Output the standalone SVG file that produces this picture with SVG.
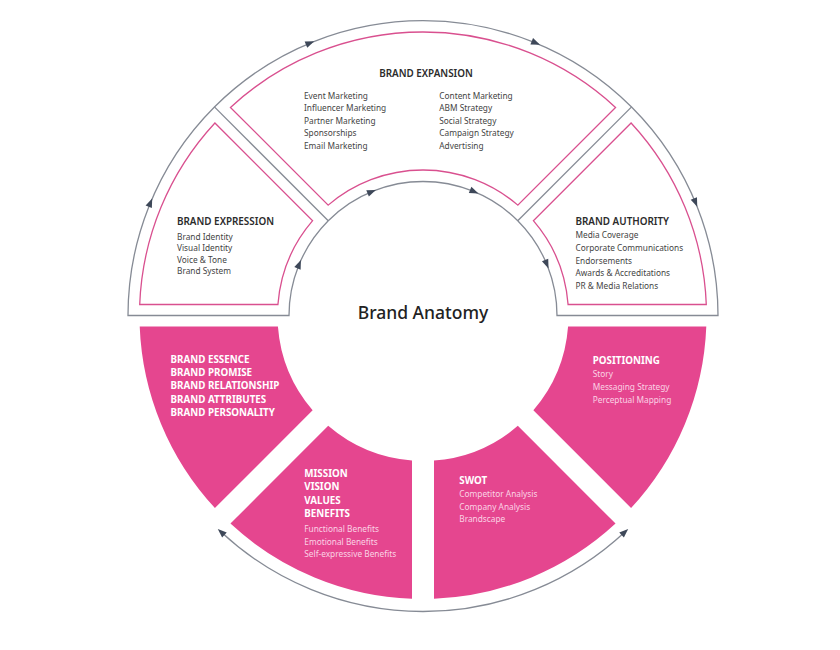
<svg xmlns="http://www.w3.org/2000/svg" xmlns:xlink="http://www.w3.org/1999/xlink" width="840" height="650" viewBox="0 0 840 650">
<style>
.frame{fill:none;stroke:#868b95;stroke-width:1.3}
.outline{fill:none;stroke:#d9508f;stroke-width:1.3}
.fill{fill:#e5468f}
.arr{fill:#3e4859}
.head{font-family:"Noto Sans","Liberation Sans",sans-serif;font-size:9.9px;font-weight:600;fill:#2b2b2b}
.item{font-family:"Noto Sans","Liberation Sans",sans-serif;font-size:8.3px;fill:#444}
.whead{font-family:"Noto Sans","Liberation Sans",sans-serif;font-size:9.8px;font-weight:700;fill:#fff}
.witem{font-family:"Noto Sans","Liberation Sans",sans-serif;font-size:8.3px;fill:#fbd3e5}
.title{font-family:"Noto Sans","Liberation Sans",sans-serif;font-size:17.5px;font-weight:500;fill:#222}
</style>
<defs>
<path id="ah" d="M4.5 0 L-4.5 -3.4 L-4.5 3.4 Z"/>
</defs>
<rect width="840" height="650" fill="#fff"/>
<g id="connectors">
<path class="frame" d="M128 315.5 A295 295 0 0 1 718 315.5 L557 315.5 A134 134 0 0 0 289 315.5 Z"/>
<line class="frame" x1="328.25" y1="220.75" x2="214.4" y2="106.9"/>
<line class="frame" x1="517.75" y1="220.75" x2="631.6" y2="106.9"/>
<path class="frame" d="M221.13 531.98 A296 296 0 0 0 624.87 531.98"/>
<g class="arr">
<use xlink:href="#ah" transform="translate(150.46 202.61) rotate(-67.5)"/>
<use xlink:href="#ah" transform="translate(310.11 42.96) rotate(-22.5)"/>
<use xlink:href="#ah" transform="translate(535.89 42.96) rotate(22.5)"/>
<use xlink:href="#ah" transform="translate(695.54 202.61) rotate(67.5)"/>
<use xlink:href="#ah" transform="translate(299.2 264.22) rotate(-67.5)"/>
<use xlink:href="#ah" transform="translate(371.72 191.7) rotate(-22.5)"/>
<use xlink:href="#ah" transform="translate(474.28 191.7) rotate(22.5)"/>
<use xlink:href="#ah" transform="translate(546.8 264.22) rotate(67.5)"/>
<use xlink:href="#ah" transform="translate(221.13 531.98) rotate(-137)"/>
<use xlink:href="#ah" transform="translate(624.87 531.98) rotate(-43)"/>
</g>
</g>
<g id="brand-expression">
<path class="outline" d="M139.71 304.5 A283.5 283.5 0 0 1 214.91 122.96 L312.63 220.69 A145.5 145.5 0 0 0 277.92 304.5 Z"/>
<text class="head" x="177" y="225">BRAND EXPRESSION</text>
<text class="item" x="177" y="239.7">Brand Identity</text>
<text class="item" x="177" y="251.1">Visual Identity</text>
<text class="item" x="177" y="262.5">Voice &amp; Tone</text>
<text class="item" x="177" y="273.9">Brand System</text>
</g>
<g id="brand-expansion">
<path class="outline" d="M230.46 107.41 A283.5 283.5 0 0 1 615.54 107.41 L517.81 205.13 A145.5 145.5 0 0 0 328.19 205.13 Z"/>
<text class="head" x="426" y="77" text-anchor="middle">BRAND EXPANSION</text>
<text class="item" x="304" y="98.5">Event Marketing</text>
<text class="item" x="304" y="111.1">Influencer Marketing</text>
<text class="item" x="304" y="123.7">Partner Marketing</text>
<text class="item" x="304" y="136.3">Sponsorships</text>
<text class="item" x="304" y="148.9">Email Marketing</text>
<text class="item" x="439.3" y="98.5">Content Marketing</text>
<text class="item" x="439.3" y="111.1">ABM Strategy</text>
<text class="item" x="439.3" y="123.7">Social Strategy</text>
<text class="item" x="439.3" y="136.3">Campaign Strategy</text>
<text class="item" x="439.3" y="148.9">Advertising</text>
</g>
<g id="brand-authority">
<path class="outline" d="M631.09 122.96 A283.5 283.5 0 0 1 706.29 304.5 L568.08 304.5 A145.5 145.5 0 0 0 533.37 220.69 Z"/>
<text class="head" x="575.5" y="225">BRAND AUTHORITY</text>
<text class="item" x="575.5" y="238">Media Coverage</text>
<text class="item" x="575.5" y="250.8">Corporate Communications</text>
<text class="item" x="575.5" y="263.5">Endorsements</text>
<text class="item" x="575.5" y="276.2">Awards &amp; Accreditations</text>
<text class="item" x="575.5" y="289">PR &amp; Media Relations</text>
</g>
<g id="center">
<text class="title" x="423" y="318.5" text-anchor="middle">Brand Anatomy</text>
</g>
<g id="brand-essence">
<path class="fill" d="M139.71 326.5 L277.92 326.5 A145.5 145.5 0 0 0 312.63 410.31 L214.91 508.04 A283.5 283.5 0 0 1 139.71 326.5 Z"/>
<text class="whead" x="170.5" y="362.5">BRAND ESSENCE</text>
<text class="whead" x="170.5" y="375.9">BRAND PROMISE</text>
<text class="whead" x="170.5" y="389.3">BRAND RELATIONSHIP</text>
<text class="whead" x="170.5" y="402.7">BRAND ATTRIBUTES</text>
<text class="whead" x="170.5" y="416.1">BRAND PERSONALITY</text>
</g>
<g id="mission">
<path class="fill" d="M328.19 425.87 A145.5 145.5 0 0 0 412 460.58 L412 598.79 A283.5 283.5 0 0 1 230.46 523.59 Z"/>
<text class="whead" x="304.3" y="476.8">MISSION</text>
<text class="whead" x="304.3" y="490.2">VISION</text>
<text class="whead" x="304.3" y="503.7">VALUES</text>
<text class="whead" x="304.3" y="517.2">BENEFITS</text>
<text class="witem" x="304.3" y="532">Functional Benefits</text>
<text class="witem" x="304.3" y="544.7">Emotional Benefits</text>
<text class="witem" x="304.3" y="557.3">Self-expressive Benefits</text>
</g>
<g id="swot">
<path class="fill" d="M434 460.58 A145.5 145.5 0 0 0 517.81 425.87 L615.54 523.59 A283.5 283.5 0 0 1 434 598.79 Z"/>
<text class="whead" x="459.3" y="483.5">SWOT</text>
<text class="witem" x="459.3" y="496.5">Competitor Analysis</text>
<text class="witem" x="459.3" y="509.5">Company Analysis</text>
<text class="witem" x="459.3" y="522.3">Brandscape</text>
</g>
<g id="positioning">
<path class="fill" d="M533.37 410.31 A145.5 145.5 0 0 0 568.08 326.5 L706.29 326.5 A283.5 283.5 0 0 1 631.09 508.04 Z"/>
<text class="whead" x="592.7" y="363.5">POSITIONING</text>
<text class="witem" x="592.7" y="377">Story</text>
<text class="witem" x="592.7" y="390.3">Messaging Strategy</text>
<text class="witem" x="592.7" y="403">Perceptual Mapping</text>
</g>
</svg>
